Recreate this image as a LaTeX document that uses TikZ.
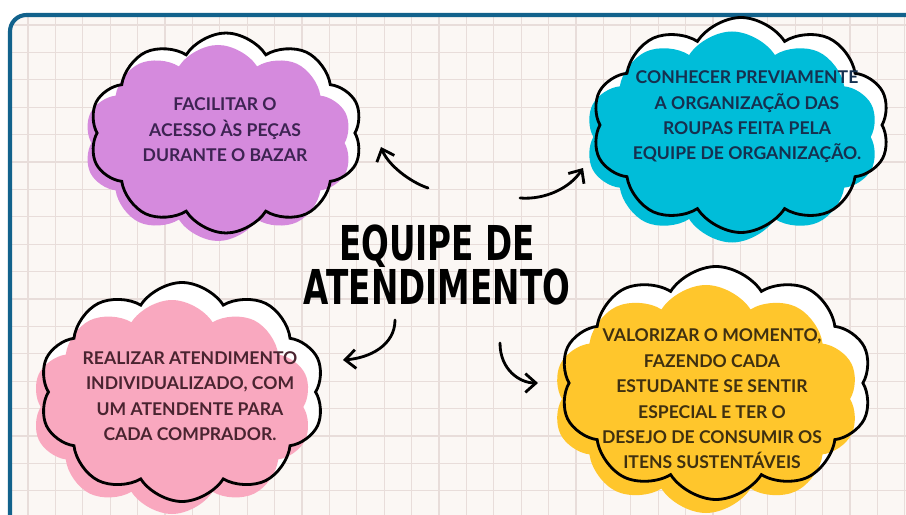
\documentclass[tikz,border=0pt]{standalone}
\usepackage{fontspec}
\setmainfont{Lato}
\newfontfamily\titlefont[FakeStretch=0.68]{DejaVu Sans}
\usetikzlibrary{shapes.symbols,arrows.meta,calc}

\definecolor{framecol}{HTML}{12628C}
\definecolor{paper}{HTML}{FBF7F4}
\definecolor{gridcol}{HTML}{E8DDDA}
\definecolor{lilac}{HTML}{D58ADD}
\definecolor{skyblue}{HTML}{00BDD9}
\definecolor{rosepink}{HTML}{F9A8BF}
\definecolor{sunyellow}{HTML}{FFC62C}
\definecolor{lilactext}{HTML}{3D2352}
\definecolor{skytext}{HTML}{16304F}
\definecolor{rosetext}{HTML}{4A2430}
\definecolor{suntext}{HTML}{3F3010}

\tikzset{
  puff/.style={cloud, cloud puffs=10, cloud puff arc=115, cloud ignores aspect, inner sep=0pt},
  puffsize/.style 2 args={minimum width=#1*0.03cm, minimum height=#2*0.03cm},
  halo/.style={puff, fill=white},
  rim/.style={puff, draw=black, line width=2.4pt},
  note/.style={align=center, font=\fontsize{15}{21.7}\selectfont\bfseries},
  headline/.style={align=center, font=\titlefont\bfseries\fontsize{41}{38}\selectfont},
  arr/.style={line width=2.4pt, line cap=round, -{Straight Barb[length=9pt,width=16pt]}},
}

\begin{document}
\begin{tikzpicture}[x=0.03cm,y=-0.03cm]
  \useasboundingbox (0,0) rectangle (906,515);
  \fill[white] (0,0) rectangle (906,515);

  % Paper with grid
  \begin{scope}
    \clip[rounded corners=14] (10,15) rectangle (950,560);
    \fill[paper] (0,0) rectangle (950,560);
    \foreach \k in {0,...,33}
      \draw[gridcol, line width=0.9pt] (28+27.4*\k,0) -- (28+27.4*\k,560);
    \foreach \k in {0,...,19}
      \draw[gridcol, line width=0.9pt] (0,25+27.4*\k) -- (950,25+27.4*\k);
  \end{scope}
  \draw[framecol, line width=3.5pt, rounded corners=14] (10,15) rectangle (950,560);

  % Purple cloud
  \node[halo, puffsize={273}{200}] (lilacHalo) at (226,133) {};
  \node[puff, fill=lilac, puffsize={268}{196}] (lilacTint) at ($(lilacHalo)+(-8,10)$) {};
  \node[rim, puffsize={273}{200}] (lilacRim) at (lilacHalo) {};
  \node[note, text=lilactext] (lilacText) at (225,130) {FACILITAR O\\ACESSO ÀS PEÇAS\\DURANTE O BAZAR};

  % Blue cloud
  \node[halo, puffsize={298}{215}] (skyHalo) at (741,125) {};
  \node[puff, fill=skyblue, puffsize={293}{211}] (skyTint) at ($(skyHalo)+(-9,12)$) {};
  \node[rim, puffsize={298}{215}] (skyRim) at (skyHalo) {};
  \node[note, text=skytext] (skyText) at (747,117) {CONHECER PREVIAMENTE\\A ORGANIZAÇÃO DAS\\ROUPAS FEITA PELA\\EQUIPE DE ORGANIZAÇÃO.};

  % Pink cloud
  \node[halo, puffsize={285}{219}] (roseHalo) at (182,392) {};
  \node[puff, fill=rosepink, puffsize={280}{214}] (roseTint) at ($(roseHalo)+(-10,15)$) {};
  \node[rim, puffsize={285}{219}] (roseRim) at (roseHalo) {};
  \node[note, text=rosetext] (roseText) at (190,396) {REALIZAR ATENDIMENTO\\INDIVIDUALIZADO, COM\\UM ATENDENTE PARA\\CADA COMPRADOR.};

  % Yellow cloud
  \node[halo, puffsize={312}{233}] (sunHalo) at (716,383) {};
  \node[puff, fill=sunyellow, puffsize={306}{228}] (sunTint) at ($(sunHalo)+(-10,16)$) {};
  \node[rim, puffsize={312}{233}] (sunRim) at (sunHalo) {};
  \node[note, text=suntext] (sunText) at (712,399) {VALORIZAR O MOMENTO,\\FAZENDO CADA\\ESTUDANTE SE SENTIR\\ESPECIAL E TER O\\DESEJO DE CONSUMIR OS\\ITENS SUSTENTÁVEIS};

  % Title
  \node[headline] (title) at (437,265) {EQUIPE DE\\ATENDIMENTO};

  % Arrows
  \coordinate (tailA) at (428,188);
  \coordinate (tipA) at (381,147);
  \coordinate (tailB) at (520,198);
  \coordinate (tipB) at (583,168);
  \coordinate (tailC) at (395,320);
  \coordinate (tipC) at (343,360);
  \coordinate (tailD) at (500,343);
  \coordinate (tipD) at (538,383);
  \draw[arr] (tailA) .. controls (410,182) and (388,165) .. (tipA);
  \draw[arr] (tailB) .. controls (545,200) and (570,188) .. (tipB);
  \draw[arr] (tailC) .. controls (395,345) and (370,358) .. (tipC);
  \draw[arr] (tailD) .. controls (500,370) and (520,383) .. (tipD);
\end{tikzpicture}
\end{document}
